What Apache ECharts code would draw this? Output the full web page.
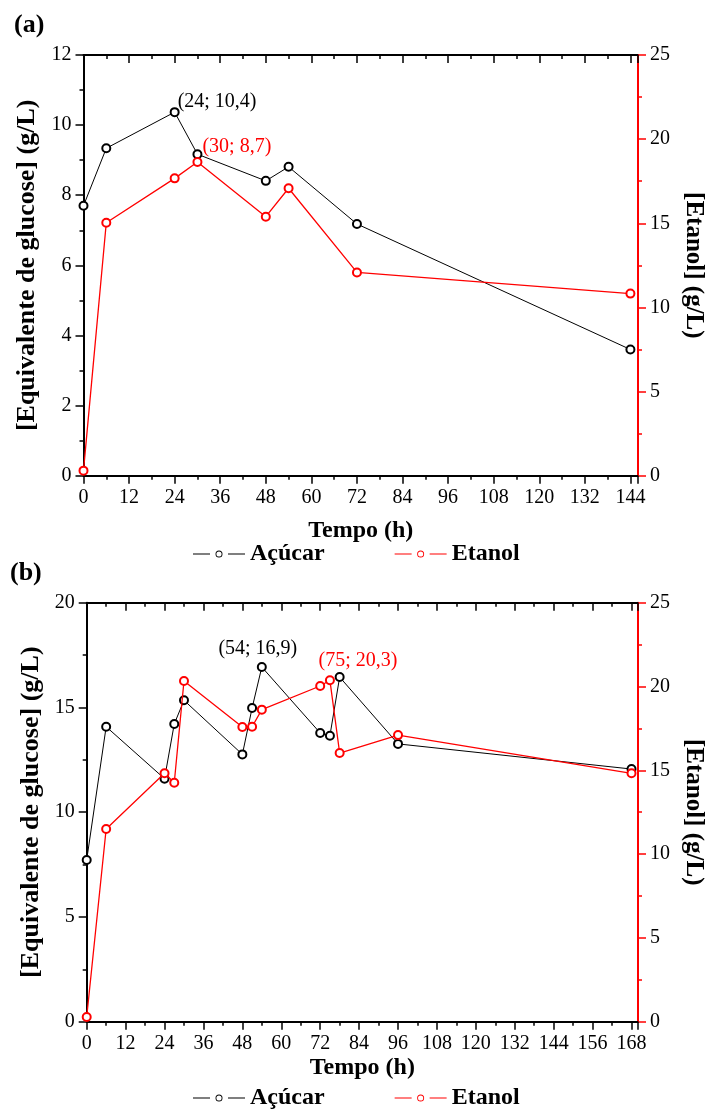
<!DOCTYPE html>
<html>
<head>
<meta charset="utf-8">
<script src="https://cdn.jsdelivr.net/npm/echarts@6/dist/echarts.min.js"></script>
<style>
html,body{margin:0;padding:0;background:#fff;}
#c{width:714px;height:1112px;}
</style>
</head>
<body>
<div id="c"></div>
<script>
// ---- Data ----
// Panel (a)
const timeA    = [0, 6, 24, 30, 48, 54, 72, 144];
const sugarA   = [7.70, 9.34, 10.37, 9.17, 8.41, 8.81, 7.18, 3.60];
const ethanolA = [0.30, 15.03, 17.67, 18.64, 15.39, 17.08, 12.08, 10.82];
// Panel (b)
const timeB    = [0, 6, 24, 27, 30, 48, 51, 54, 72, 75, 78, 96, 168];
const sugarB   = [7.72, 14.08, 11.60, 14.21, 15.34, 12.76, 14.97, 16.93, 13.78, 13.65, 16.45, 13.26, 12.06];
const ethanolB = [0.28, 11.50, 14.82, 14.26, 20.33, 17.58, 17.60, 18.62, 20.03, 20.37, 16.03, 17.10, 14.82];

// Axis ranges [min, max, interval]
const xRangeA  = [0, 146, 12];
const yLeftA   = [0, 12, 2];
const yRightA  = [0, 25, 5];
const xRangeB  = [0, 170, 12];
const yLeftB   = [0, 20, 5];
const yRightB  = [0, 25, 5];

// Texts
const seriesNames = ['Açúcar', 'Etanol'];
const panelTitles = ['(a)', '(b)'];
const xName = 'Tempo (h)';
const yLeftName = '[Equivalente de glucose] (g/L)';
const yRightName = '[Etanol] (g/L)';
const annotA = { sugarIndex: 2, sugarText: '(24; 10,4)', ethanolIndex: 3, ethanolText: '(30; 8,7)' };
const annotB = { sugarIndex: 7, sugarText: '(54; 16,9)', ethanolIndex: 9, ethanolText: '(75; 20,3)' };

// ---- Chart ----
const FONT = '"Liberation Serif", "Times New Roman", serif';
const RED = '#ff0000';
// legend glyph "—o—": two short line segments and a ring
const LEGEND_ICON = 'path://M0,3 L17,3 L17,4 L0,4 Z M35,3 L52,3 L52,4 L35,4 Z ' +
  'M22.5,3.5 A3.5,3.5 0 1,1 29.5,3.5 A3.5,3.5 0 1,1 22.5,3.5 Z ' +
  'M23.4,3.5 A2.6,2.6 0 1,0 28.6,3.5 A2.6,2.6 0 1,0 23.4,3.5 Z';

function xBottom(gridIndex, r, nameGap) {
  return {
    type: 'value', gridIndex, position: 'bottom', min: r[0], max: r[1], interval: r[2],
    axisLine: { show: true, onZero: false, lineStyle: { color: '#000', width: 2 } },
    axisTick: { show: true, inside: false, length: 8, lineStyle: { color: '#000', width: 1.5 } },
    minorTick: { show: true, splitNumber: 2, length: 4, lineStyle: { color: '#000', width: 1.5 } },
    axisLabel: { margin: 12, fontFamily: FONT, fontSize: 20, color: '#000',
      formatter: v => (v % 12 === 0 ? String(v) : '') },
    splitLine: { show: false }, minorSplitLine: { show: false },
    name: xName, nameLocation: 'middle', nameGap,
    nameTextStyle: { fontFamily: FONT, fontWeight: 'bold', fontSize: 24, color: '#000' }
  };
}
function xTop(gridIndex, r) {
  return {
    type: 'value', gridIndex, position: 'top', min: r[0], max: r[1], interval: r[2],
    axisLine: { show: true, onZero: false, lineStyle: { color: '#000', width: 2 } },
    axisTick: { show: true, inside: true, length: 8, lineStyle: { color: '#000', width: 1.5 } },
    minorTick: { show: true, splitNumber: 2, length: 4, lineStyle: { color: '#000', width: 1.5 } },
    axisLabel: { show: false }, splitLine: { show: false }
  };
}
function yLeft(gridIndex, r, nameGap) {
  return {
    type: 'value', gridIndex, position: 'left', min: r[0], max: r[1], interval: r[2],
    axisLine: { show: true, onZero: false, lineStyle: { color: '#000', width: 2 } },
    axisTick: { show: true, inside: false, length: 8, lineStyle: { color: '#000', width: 1.5 } },
    minorTick: { show: true, splitNumber: 2, length: 4, lineStyle: { color: '#000', width: 1.5 } },
    axisLabel: { margin: 12, fontFamily: FONT, fontSize: 20, color: '#000' },
    splitLine: { show: false },
    name: yLeftName, nameLocation: 'middle', nameGap,
    nameTextStyle: { fontFamily: FONT, fontWeight: 'bold', fontSize: 26, color: '#000' }
  };
}
function yRight(gridIndex, r, nameGap) {
  return {
    type: 'value', gridIndex, position: 'right', min: r[0], max: r[1], interval: r[2],
    axisLine: { show: true, onZero: false, lineStyle: { color: RED, width: 2 } },
    axisTick: { show: true, inside: false, length: 8, lineStyle: { color: RED, width: 1.5 } },
    minorTick: { show: true, splitNumber: 2, length: 4, lineStyle: { color: RED, width: 1.5 } },
    axisLabel: { margin: 12, fontFamily: FONT, fontSize: 20, color: '#000' },
    splitLine: { show: false },
    name: yRightName, nameLocation: 'middle', nameGap, nameRotate: -90,
    nameTextStyle: { fontFamily: FONT, fontWeight: 'bold', fontSize: 25, color: '#000' }
  };
}

function buildData(times, vals, annIndex, annText, labelOpt) {
  return times.map((t, i) => {
    if (i === annIndex) {
      return { value: [t, vals[i]], label: Object.assign({ show: true, formatter: annText }, labelOpt) };
    }
    return [t, vals[i]];
  });
}

function lineSeries(name, color, width, xi, yi, data) {
  return {
    name, type: 'line', xAxisIndex: xi, yAxisIndex: yi, data,
    symbol: 'emptyCircle', symbolSize: 8,
    lineStyle: { color, width },
    itemStyle: { color, borderColor: color, borderWidth: 1.2 },
    emphasis: { disabled: true },
    z: color === RED ? 3 : 2,
    animation: false
  };
}

const lblBlack = { color: '#000', fontFamily: FONT, fontSize: 20 };
const lblRed = { color: RED, fontFamily: FONT, fontSize: 20 };

function legendCfg(top) {
  return {
    data: seriesNames.map(n => ({ name: n, icon: LEGEND_ICON })),
    left: 193, top, padding: 0, itemWidth: 52, itemHeight: 7, itemGap: 70,
    itemStyle: { borderWidth: 0 },
    textStyle: { fontFamily: FONT, fontWeight: 'bold', fontSize: 24, color: '#000', padding: [0, 0, 0, 0] },
    selectedMode: false
  };
}

const option = {
  backgroundColor: '#fff',
  animation: false,
  title: [
    { text: panelTitles[0], left: 14, top: 12, padding: 0,
      textStyle: { fontFamily: FONT, fontWeight: 'bold', fontSize: 26, color: '#000' } },
    { text: panelTitles[1], left: 10, top: 560, padding: 0,
      textStyle: { fontFamily: FONT, fontWeight: 'bold', fontSize: 26, color: '#000' } }
  ],
  legend: [ legendCfg(542), legendCfg(1086) ],
  grid: [
    { left: 83.5, top: 55, width: 558.2, height: 420.7, containLabel: false },
    { left: 86.7, top: 602.7, width: 558.3, height: 419, containLabel: false }
  ],
  xAxis: [
    xBottom(0, xRangeA, 43), xTop(0, xRangeA),
    xBottom(1, xRangeB, 34), xTop(1, xRangeB)
  ],
  yAxis: [
    yLeft(0, yLeftA, 37), yRight(0, yRightA, 43),
    yLeft(1, yLeftB, 39), yRight(1, yRightB, 43)
  ],
  series: [
    lineSeries(seriesNames[0], '#000', 1, 0, 0,
      buildData(timeA, sugarA, annotA.sugarIndex, annotA.sugarText,
        Object.assign({ position: 'right', distance: 0, offset: [-2, -10] }, lblBlack))),
    lineSeries(seriesNames[1], RED, 1.3, 0, 1,
      buildData(timeA, ethanolA, annotA.ethanolIndex, annotA.ethanolText,
        Object.assign({ position: 'right', distance: 0, offset: [0, -15] }, lblRed))),
    lineSeries(seriesNames[0], '#000', 1, 2, 2,
      buildData(timeB, sugarB, annotB.sugarIndex, annotB.sugarText,
        Object.assign({ position: 'top', distance: 3, offset: [-4, 0] }, lblBlack))),
    lineSeries(seriesNames[1], RED, 1.3, 2, 3,
      buildData(timeB, ethanolB, annotB.ethanolIndex, annotB.ethanolText,
        Object.assign({ position: 'top', distance: 5, offset: [28, 0] }, lblRed)))
  ]
};

const chart = echarts.init(document.getElementById('c'), null, { renderer: 'canvas' });
chart.setOption(option);
</script>
</body>
</html>
